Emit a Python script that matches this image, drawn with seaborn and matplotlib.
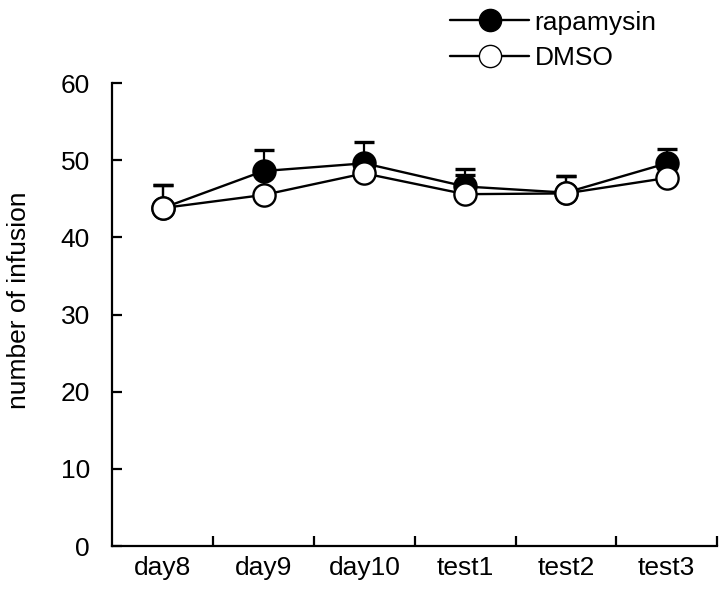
import numpy as np
import pandas as pd
import matplotlib
matplotlib.use("Agg")
import matplotlib.pyplot as plt
import seaborn as sns
from matplotlib.lines import Line2D

# values
sessions = ["day8", "day9", "day10", "test1", "test2", "test3"]
rapa_mean = [43.8, 48.6, 49.6, 46.6, 45.8, 49.6]
rapa_err = [3.0, 2.7, 2.7, 2.2, 2.1, 1.8]
dmso_mean = [43.8, 45.5, 48.3, 45.6, 45.7, 47.7]
dmso_err = [3.0, 2.8, 1.4, 2.5, 2.2, 1.4]

sns.set_style("ticks", {"text.color": "black", "axes.labelcolor": "black",
                        "xtick.color": "black", "ytick.color": "black",
                        "axes.edgecolor": "black"})
plt.rcParams["font.family"] = ["Liberation Sans", "DejaVu Sans"]
FS = 19

df = pd.DataFrame({
    "session": sessions * 2,
    "pos": list(range(len(sessions))) * 2,
    "value": rapa_mean + dmso_mean,
    "group": ["rapamysin"] * len(sessions) + ["DMSO"] * len(sessions),
})

fig = plt.figure(figsize=(7.2, 6.02), dpi=100)
ax = fig.add_axes([0.156, 0.093, 0.84, 0.769])

x = np.arange(len(sessions))
# upward-only error bars, drawn beneath the markers
ax.errorbar(x, rapa_mean, yerr=[np.zeros(len(x)), rapa_err], fmt="none",
            ecolor="black", elinewidth=1.6, capsize=7, capthick=2.4, zorder=1)
ax.errorbar(x, dmso_mean, yerr=[np.zeros(len(x)), dmso_err], fmt="none",
            ecolor="black", elinewidth=1.6, capsize=7, capthick=2.4, zorder=1)

sns.lineplot(data=df[df["group"] == "rapamysin"], x="pos", y="value", ax=ax,
             color="black", lw=1.7, marker="o", markersize=16,
             markerfacecolor="black", markeredgecolor="black", markeredgewidth=1.6,
             zorder=2, legend=False)
sns.lineplot(data=df[df["group"] == "DMSO"], x="pos", y="value", ax=ax,
             color="black", lw=1.7, marker="o", markersize=16,
             markerfacecolor="white", markeredgecolor="black", markeredgewidth=1.7,
             zorder=3, legend=False)

ax.set_xlim(-0.5, len(sessions) - 0.5)
ax.set_ylim(0, 60)
ax.set_yticks(range(0, 61, 10))
ax.set_xticks(x)
ax.set_xticklabels(sessions)
ax.set_xticks(np.arange(0.5, len(sessions) - 0.4, 1), minor=True)
ax.tick_params(axis="x", which="major", length=0, pad=7, labelsize=FS)
ax.tick_params(axis="x", which="minor", direction="in", length=7, width=1.6)
ax.tick_params(axis="y", direction="in", length=7, width=1.6, pad=16, labelsize=FS)
ax.set_xlabel("")
ax.set_ylabel("number of infusion", fontsize=FS, labelpad=24)
ax.yaxis.set_label_coords(-0.135, 0.53)
sns.despine(ax=ax)
for side in ["left", "bottom"]:
    ax.spines[side].set_linewidth(1.6)

handles = [
    Line2D([], [], color="black", lw=1.7, marker="o", markersize=16,
           markerfacecolor="black", markeredgecolor="black"),
    Line2D([], [], color="black", lw=1.7, marker="o", markersize=16,
           markerfacecolor="white", markeredgecolor="black"),
]
fig.legend(handles, ["rapamysin", "DMSO"], loc="upper left",
           bbox_to_anchor=(0.592, 1.022), frameon=False, fontsize=FS,
           handlelength=3.0, handletextpad=0.2, labelspacing=0.45)

fig.savefig("out.png", dpi=100)
